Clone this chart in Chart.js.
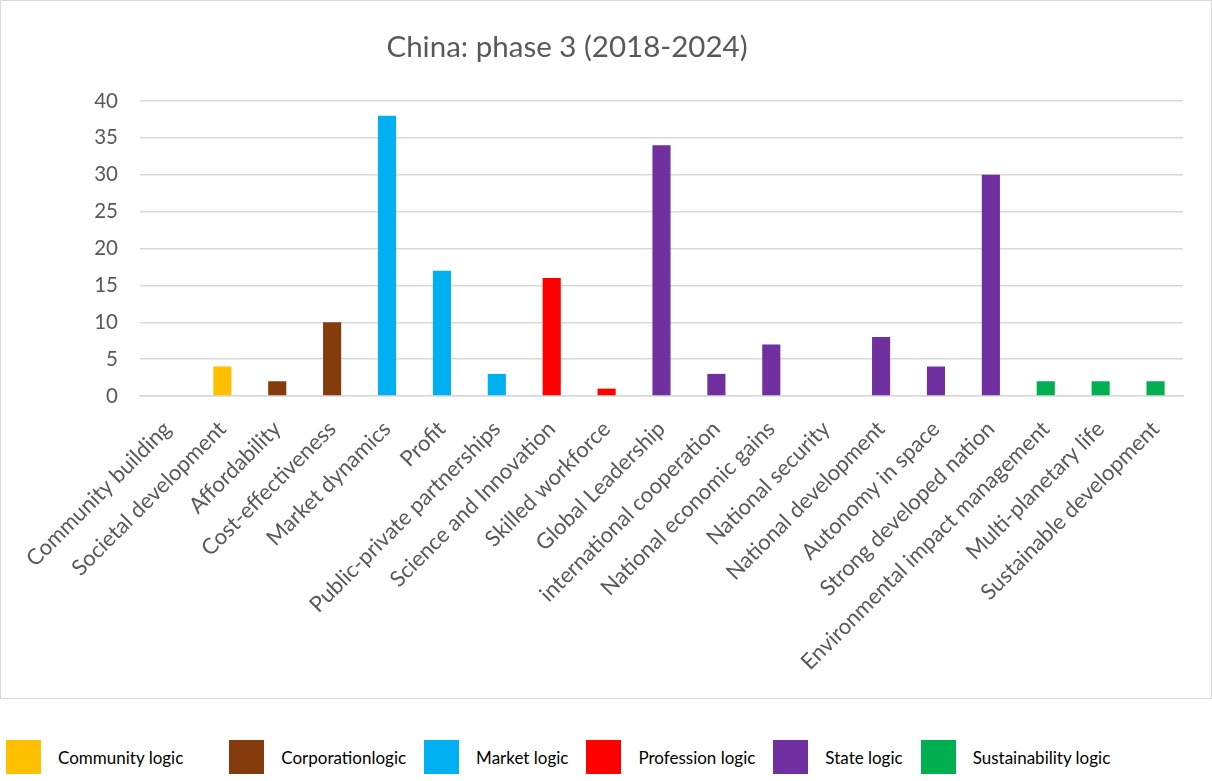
<!DOCTYPE html>
<html>
<head>
<meta charset="utf-8">
<script src="https://cdn.jsdelivr.net/npm/chart.js@4.4.1/dist/chart.umd.min.js"></script>
<style>
    body { margin: 0; background: #fff; font-family: Lato, "Open Sans", sans-serif; }
    #box { position: absolute; left: 0; top: 0; width: 1210px; height: 697px; border: 1px solid #d9d9d9; }
    #legend { position: absolute; left: 6px; top: 740px; display: flex; align-items: center; }
    .item { display: flex; align-items: center; margin-right: 18px; }
    .item:first-child { margin-right: 46px; }
    .sw { width: 35px; height: 34px; margin-right: 17px; }
    .lbl { font-size: 17px; color: #000; }
</style>
</head>
<body>
<div id="box"><canvas id="c"></canvas></div>
<div id="legend"></div>
<script>
const categories = [
    "Community building", "Societal development", "Affordability", "Cost-effectiveness",
    "Market dynamics", "Profit", "Public-private partnerships", "Science and Innovation",
    "Skilled workforce", "Global Leadership", "international cooperation",
    "National economic gains", "National security", "National development",
    "Autonomy in space", "Strong developed nation", "Environmental impact management",
    "Multi-planetary life", "Sustainable development"
];
const counts = [0, 4, 2, 10, 38, 17, 3, 16, 1, 34, 3, 7, 0, 8, 4, 30, 2, 2, 2];
const categoryLogic = [0, 0, 1, 1, 2, 2, 2, 3, 3, 4, 4, 4, 4, 4, 4, 4, 5, 5, 5];
const logicNames = ["Community logic", "Corporationlogic", "Market logic", "Profession logic", "State logic", "Sustainability logic"];
const logicColors = ["#FFC000", "#843C0C", "#00B0F0", "#FF0000", "#7030A0", "#00B050"];
const yTicks = [0, 5, 10, 15, 20, 25, 30, 35, 40];

const datasets = logicNames.map((name, k) => ({
    label: name,
    data: counts.map((v, i) => categoryLogic[i] === k ? v : null),
    backgroundColor: logicColors[k],
    barPercentage: 0.33,
    categoryPercentage: 1
}));

// title drawn a bit left of centre like the original
const titlePlugin = {
    id: "ownTitle",
    afterDraw(chart) {
        const ctx = chart.ctx;
        ctx.save();
        ctx.font = "29.5px Lato";
        ctx.fillStyle = "#595959";
        ctx.textAlign = "center";
        ctx.textBaseline = "middle";
        ctx.fillText("China: phase 3 (2018-2024)", 566, 46);
        ctx.restore();
    }
};

const canvas = document.getElementById("c");
canvas.width = 1210;
canvas.height = 697;

new Chart(canvas, {
    type: "bar",
    data: { labels: categories, datasets: datasets },
    options: {
        responsive: false,
        animation: false,
        layout: { padding: { top: 100, right: 28, left: 0, bottom: 0 } },
        plugins: {
            legend: { display: false },
            title: { display: false },
            tooltip: { enabled: false }
        },
        scales: {
            x: {
                stacked: true,
                grid: { display: false, drawTicks: false },
                border: { color: "#d9d9d9", width: 1.5 },
                ticks: {
                    color: "#595959",
                    font: { family: "Lato", size: 22 },
                    minRotation: 45,
                    maxRotation: 45,
                    padding: 20,
                    autoSkip: false
                },
                afterFit(s) { s.height = 302; }
            },
            y: {
                stacked: true,
                min: 0,
                max: 40,
                afterBuildTicks(s) { s.ticks = yTicks.map(v => ({ value: v })); },
                grid: { color: "#d9d9d9", lineWidth: 1.5, drawTicks: false },
                border: { display: false },
                ticks: {
                    color: "#595959",
                    font: { family: "Lato", size: 20.5 },
                    padding: 22
                },
                afterFit(s) { s.width = 139; }
            }
        }
    },
    plugins: [titlePlugin]
});

const legend = document.getElementById("legend");
logicNames.forEach((name, k) => {
    const item = document.createElement("div");
    item.className = "item";
    item.innerHTML = '<div class="sw" style="background:' + logicColors[k] + '"></div><span class="lbl">' + name + '</span>';
    legend.appendChild(item);
});
</script>
</body>
</html>
